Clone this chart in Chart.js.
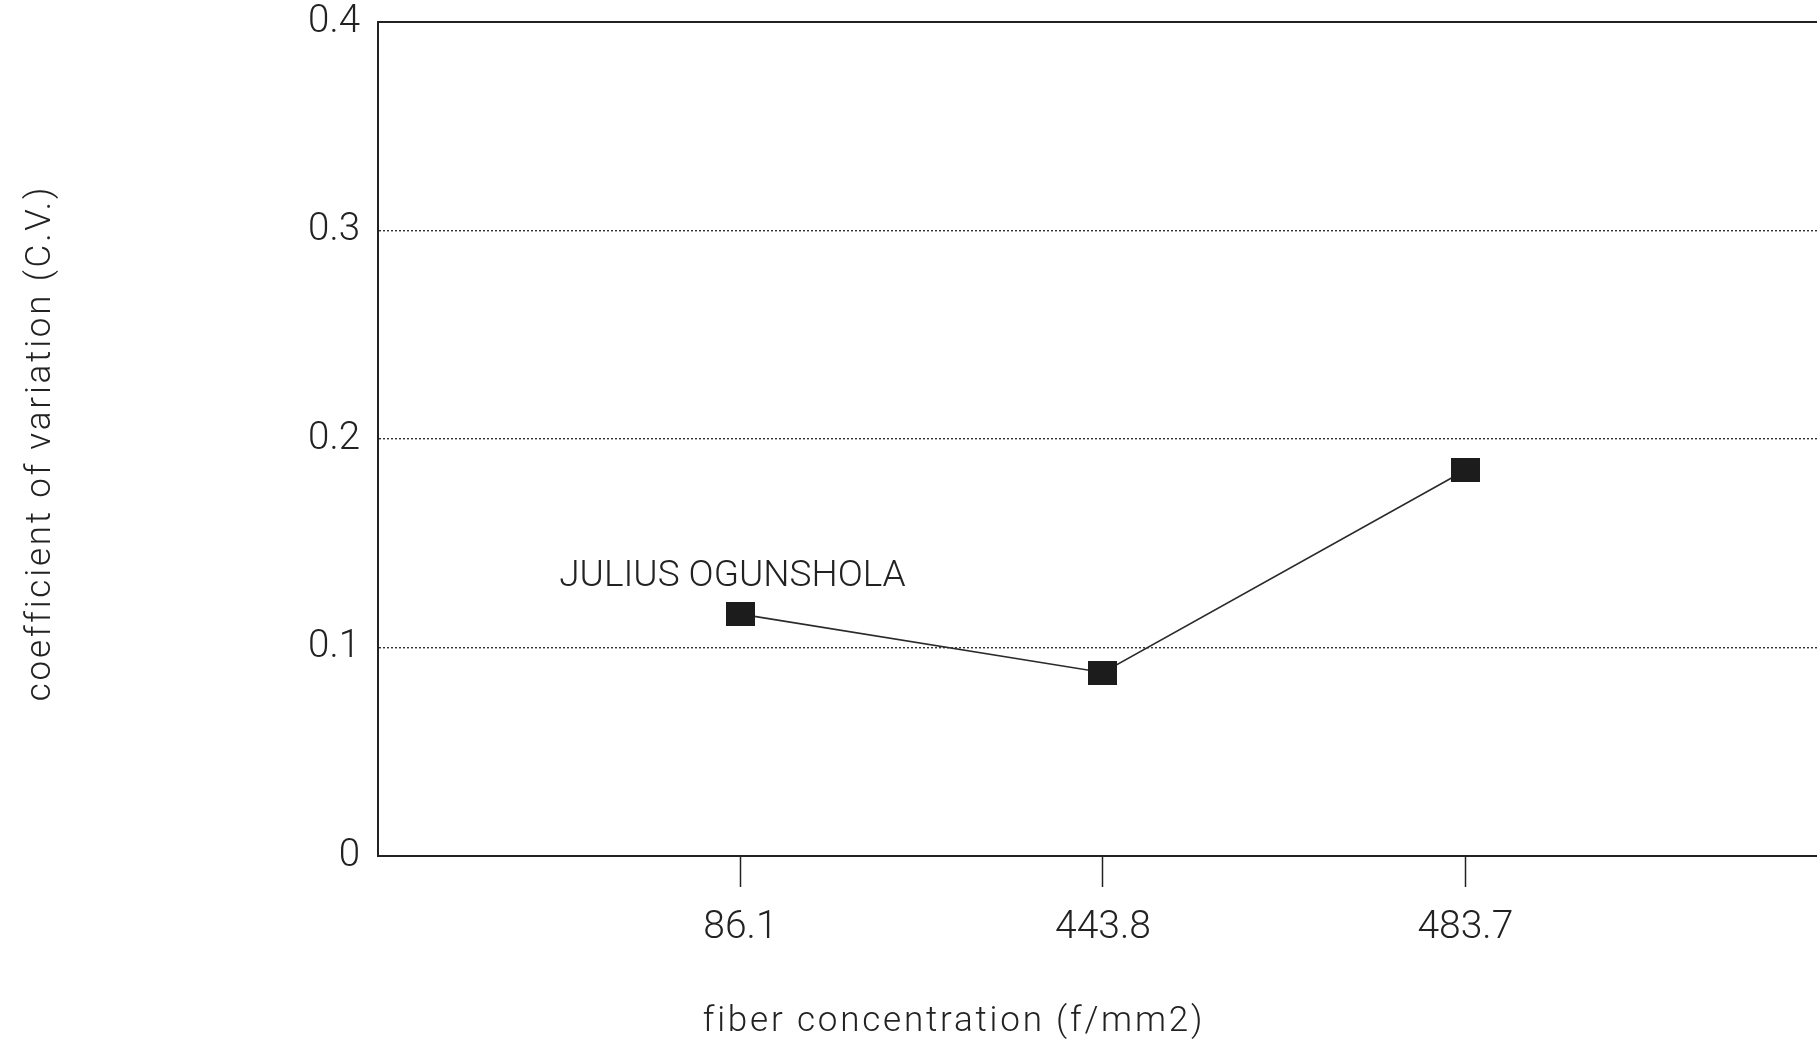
<!DOCTYPE html>
<html>
<head>
<meta charset="utf-8">
<title>Coefficient of variation vs fiber concentration</title>
<script src="https://cdn.jsdelivr.net/npm/chart.js@4/dist/chart.umd.min.js"></script>
<style>
  html, body { margin: 0; padding: 0; background: #ffffff; overflow: hidden; }
  #c { display: block; }
</style>
</head>
<body>
<canvas id="c" width="1817" height="1048"></canvas>
<script>
// ---- data ----
const categories = ['86.1', '443.8', '483.7'];
const cvValues = [0.116, 0.088, 0.185];
const seriesName = 'JULIUS OGUNSHOLA';
const yTickValues = [0, 0.1, 0.2, 0.3, 0.4];
const yTickLabels = ['0', '0.1', '0.2', '0.3', '0.4'];
const xTitle = 'fiber concentration (f/mm2)';
const yTitle = 'coefficient of variation (C.V.)';

// ---- styling ----
const INK = '#222222';
const THIN = "Roboto, 'Liberation Sans Narrow', sans-serif";

// solid rectangular marker used for every point
function makeMarker(w, h, color) {
  const c = document.createElement('canvas');
  c.width = w; c.height = h;
  const g = c.getContext('2d');
  g.fillStyle = color;
  g.fillRect(0, 0, w, h);
  return c;
}
const marker = makeMarker(29, 24, '#1c1c1c');

// series label above the first point and the two axis titles
const textPlugin = {
  id: 'extraText',
  afterDatasetsDraw(chart) {
    const ctx = chart.ctx;
    const area = chart.chartArea;
    const p = chart.getDatasetMeta(0).data[0];
    ctx.save();
    ctx.fillStyle = INK;
    ctx.font = "300 37px " + THIN;
    ctx.textAlign = 'center';
    ctx.textBaseline = 'alphabetic';
    ctx.fillText(seriesName, p.x - 8, p.y - 28);

    ctx.font = "300 35px " + THIN;
    ctx.letterSpacing = '2.8px';
    ctx.textBaseline = 'middle';
    ctx.fillText(xTitle, 954, 1022);

    ctx.translate(41, (area.top + area.bottom) / 2 + 4);
    ctx.rotate(-Math.PI / 2);
    ctx.fillText(yTitle, 0, 0);
    ctx.restore();
  }
};

const points = cvValues.map((v, i) => ({ x: i, y: v }));

new Chart(document.getElementById('c'), {
  type: 'line',
  data: {
    datasets: [{
      label: seriesName,
      data: points,
      borderColor: '#2a2a2a',
      borderWidth: 1.6,
      tension: 0,
      fill: false,
      pointStyle: marker,
      pointRadius: 15,
      pointHoverRadius: 15
    }]
  },
  options: {
    responsive: false,
    devicePixelRatio: 1,
    animation: false,
    layout: { padding: 0, autoPadding: false },
    plugins: {
      legend: { display: false },
      tooltip: { enabled: false },
      title: { display: false }
    },
    scales: {
      x: {
        type: 'linear',
        position: 'bottom',
        min: -1,
        max: 2.97,
        afterBuildTicks: s => { s.ticks = categories.map((_, i) => ({ value: i })); },
        ticks: {
          callback: (v, i) => categories[i],
          font: { family: THIN, size: 39, weight: 300 },
          color: INK,
          padding: 18,
          maxRotation: 0,
          autoSkip: false
        },
        grid: {
          drawOnChartArea: false,
          drawTicks: true,
          tickLength: 31,
          tickColor: INK,
          tickWidth: 1.5
        },
        border: { display: true, color: INK, width: 2 },
        afterFit: s => { s.height = 192; s.paddingLeft = 0; s.paddingRight = 0; }
      },
      x2: {
        type: 'linear',
        position: 'top',
        min: -1,
        max: 2.97,
        ticks: { display: false },
        grid: { display: false, drawTicks: false },
        border: { display: true, color: INK, width: 2 },
        afterFit: s => { s.height = 22; s.paddingLeft = 0; s.paddingRight = 0; }
      },
      y: {
        type: 'linear',
        min: 0,
        max: 0.4,
        afterBuildTicks: s => { s.ticks = yTickValues.map(v => ({ value: v })); },
        ticks: {
          callback: (v, i) => yTickLabels[i],
          font: { family: THIN, size: 38.5, weight: 300 },
          color: INK,
          padding: 18
        },
        grid: {
          drawTicks: false,
          lineWidth: 1.4,
          color: c => (c.tick && c.tick.value > 0 && c.tick.value < 0.4) ? '#333333' : 'rgba(0,0,0,0)'
        },
        border: { display: true, color: INK, width: 2, dash: [2, 2] },
        afterFit: s => { s.width = 378; s.paddingTop = 0; s.paddingBottom = 0; }
      }
    }
  },
  plugins: [textPlugin]
});
</script>
</body>
</html>
